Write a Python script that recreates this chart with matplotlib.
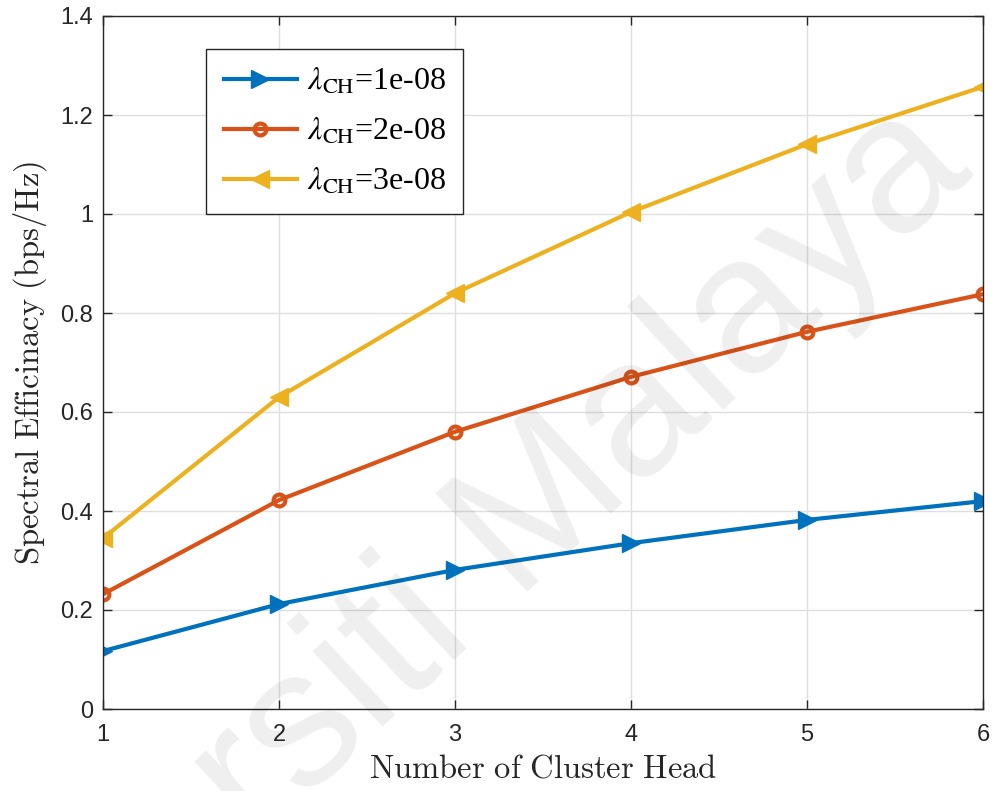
import matplotlib
matplotlib.use("Agg")
import matplotlib.pyplot as plt

# number of cluster heads
cluster_heads = [1, 2, 3, 4, 5, 6]

# spectral efficiency (bps/Hz) for each lambda_CH
se_1e8 = [0.117, 0.212, 0.281, 0.335, 0.382, 0.420]
se_2e8 = [0.232, 0.422, 0.560, 0.671, 0.762, 0.838]
se_3e8 = [0.345, 0.630, 0.840, 1.004, 1.141, 1.257]

labels = ["1e-08", "2e-08", "3e-08"]

xticks = [1, 2, 3, 4, 5, 6]
yticks = [0, 0.2, 0.4, 0.6, 0.8, 1.0, 1.2, 1.4]
ytick_labels = ["0", "0.2", "0.4", "0.6", "0.8", "1", "1.2", "1.4"]

axcol = "#262626"
plt.rcParams["font.family"] = ["Liberation Sans", "DejaVu Sans"]

fig = plt.figure(figsize=(9.93, 7.91), dpi=100)
ax = fig.add_axes([103 / 993, 82 / 791, 880 / 993, 693 / 791])

ax.plot(cluster_heads, se_1e8, color="#0072BD", lw=3, marker=">",
        markersize=13, label=r"$\lambda_{\mathrm{CH}}$=" + labels[0])
ax.plot(cluster_heads, se_2e8, color="#D95319", lw=3, marker="o",
        markersize=8.5, mfc="none", mew=3, label=r"$\lambda_{\mathrm{CH}}$=" + labels[1])
ax.plot(cluster_heads, se_3e8, color="#EDB120", lw=3, marker="<",
        markersize=13, label=r"$\lambda_{\mathrm{CH}}$=" + labels[2])

ax.set_xlim(1, 6)
ax.set_ylim(0, 1.4)
ax.set_xticks(xticks)
ax.set_yticks(yticks)
ax.set_yticklabels(ytick_labels)
ax.grid(True, color="#dfdfdf", lw=1)
ax.set_axisbelow(True)
ax.tick_params(direction="in", length=6.5, width=1, colors=axcol, labelsize=17,
               top=True, right=True)
ax.tick_params(axis="x", pad=11)
ax.tick_params(axis="y", pad=7)
for sp in ax.spines.values():
    sp.set_color(axcol)
    sp.set_linewidth(1)

ax.set_xlabel(r"$\mathrm{Number\ of\ Cluster\ Head}$", fontsize=23.5,
              math_fontfamily="cm", color=axcol, labelpad=5)
ax.set_ylabel(r"$\mathrm{Spectral\ Efficinacy\ (bps/Hz)}$", fontsize=23.5,
              math_fontfamily="cm", color=axcol, labelpad=8)

leg = ax.legend(loc="upper left", bbox_to_anchor=(206 / 993, 1 - 49 / 791),
                bbox_transform=fig.transFigure, borderaxespad=0, fancybox=False,
                framealpha=1, edgecolor=axcol, handlelength=2.3,
                prop={"family": "Liberation Serif", "size": 23},
                labelspacing=0.62, borderpad=0.55, handletextpad=0.3)
leg.get_frame().set_linewidth(1)
for t in leg.get_texts():
    t.set_math_fontfamily("stix")
    t.set_color("black")

# watermark
fig.text(975 / 993, 1 - 175 / 791, "Universiti Malaya", fontsize=140,
         color="black", alpha=0.065, rotation=43, rotation_mode="anchor",
         ha="right", va="baseline", zorder=10)

fig.savefig("out.png", dpi=100)
